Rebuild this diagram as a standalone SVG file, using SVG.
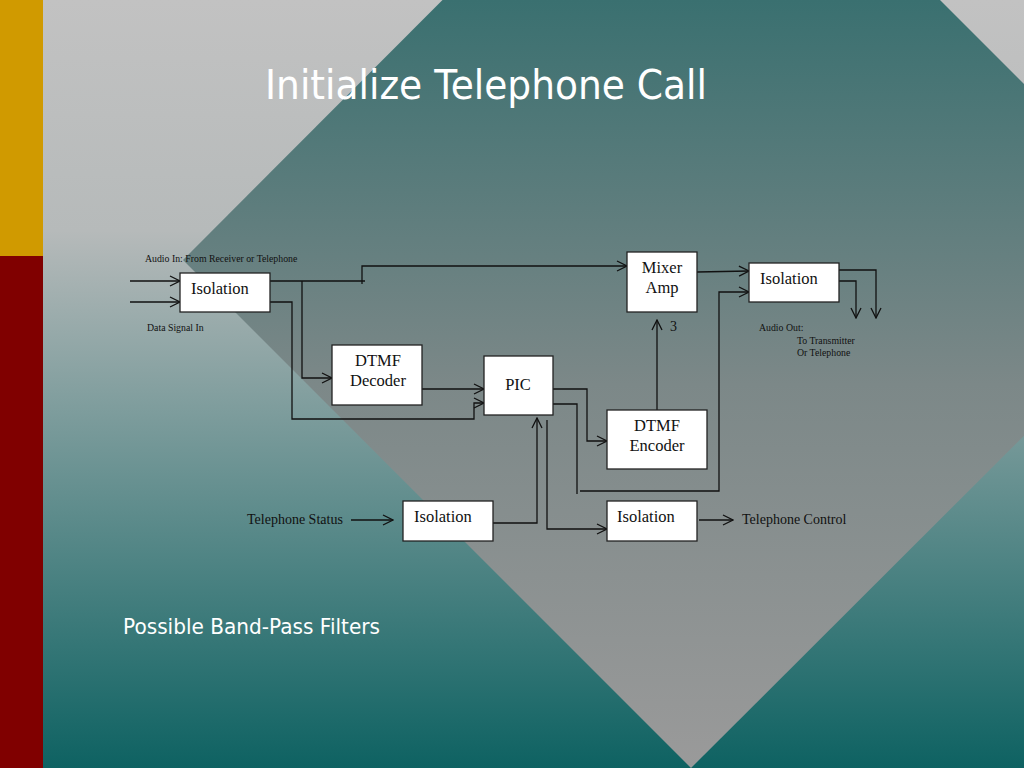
<svg xmlns="http://www.w3.org/2000/svg" width="1024" height="768" viewBox="0 0 1024 768">
<defs>
<linearGradient id="bg" x1="0" y1="0" x2="0" y2="768" gradientUnits="userSpaceOnUse">
<stop offset="0" stop-color="#c2c2c2"/>
<stop offset="0.3" stop-color="#b6baba"/>
<stop offset="1" stop-color="#0e6262"/>
</linearGradient>
<linearGradient id="dia" x1="0" y1="0" x2="0" y2="768" gradientUnits="userSpaceOnUse">
<stop offset="0" stop-color="#3a7070"/>
<stop offset="0.5" stop-color="#7c8888"/>
<stop offset="1" stop-color="#9a9a9a"/>
</linearGradient>
<marker id="arr" markerWidth="12" markerHeight="12" refX="11" refY="6" orient="auto" markerUnits="userSpaceOnUse">
<path d="M1,1 L11,6 L1,11" fill="none" stroke="#111" stroke-width="1.3"/>
</marker>
<style>
.box{fill:#fff;stroke:#222;stroke-width:1.3}
.t{font-family:"Liberation Serif","Times New Roman",serif;fill:#111}
.lbl{font-size:16.5px}
.sm{font-size:9.8px}
.md{font-size:14px}
.c{fill:none;stroke:#111;stroke-width:1.3}
.a{marker-end:url(#arr)}
</style>
</defs>
<rect x="0" y="0" width="1024" height="768" fill="url(#bg)"/>
<polygon points="691,-249 1200,260 691,768 183,260" fill="url(#dia)"/>
<rect x="0" y="0" width="43" height="256" fill="#d09a00"/>
<rect x="0" y="256" width="43" height="512" fill="#800000"/>
<text x="265" y="99" font-family="'DejaVu Sans','Open Sans',sans-serif" font-size="40" fill="#fff" textLength="442" lengthAdjust="spacingAndGlyphs">Initialize Telephone Call</text>
<text x="123" y="634" font-family="'DejaVu Sans','Open Sans',sans-serif" font-size="21" fill="#fff" textLength="257" lengthAdjust="spacingAndGlyphs">Possible Band-Pass Filters</text>

<g id="connectors">
<path class="c a" d="M130,281 H180"/>
<path class="c a" d="M130,302 H180"/>
<path class="c" d="M270,281 H365"/>
<path class="c a" d="M362,284 V266 H627"/>
<path class="c a" d="M302,281 V378 H332"/>
<path class="c a" d="M270,302 H292 V419 H474 V403 H484"/>
<path class="c a" d="M422,389 H484"/>
<path class="c a" d="M553,389 H587 V441 H607"/>
<path class="c" d="M553,404 H577 V494"/>
<path class="c a" d="M580,491 H719 V292 H749"/>
<path class="c a" d="M697,272 L749,271"/>
<path class="c a" d="M657,410 V320"/>
<path class="c a" d="M839,270 H876 V318"/>
<path class="c a" d="M839,281 H856 V318"/>
<path class="c a" d="M493,523 H537 V418"/>
<path class="c a" d="M547,420 V529 H607"/>
<path class="c a" d="M699,520 H733"/>
<path class="c a" d="M351,520 H393"/>
</g>

<g id="iso1">
<rect class="box" x="180" y="273" width="90" height="39"/>
<text class="t lbl" x="191" y="294">Isolation</text>
</g>
<g id="mixer">
<rect class="box" x="627" y="252" width="70" height="60"/>
<text class="t lbl" x="662" y="273" text-anchor="middle">Mixer</text>
<text class="t lbl" x="662" y="293" text-anchor="middle">Amp</text>
</g>
<g id="iso2">
<rect class="box" x="749" y="263" width="90" height="39"/>
<text class="t lbl" x="760" y="284">Isolation</text>
</g>
<g id="decoder">
<rect class="box" x="332" y="345" width="90" height="60"/>
<text class="t lbl" x="378" y="366" text-anchor="middle">DTMF</text>
<text class="t lbl" x="378" y="386" text-anchor="middle">Decoder</text>
</g>
<g id="pic">
<rect class="box" x="484" y="356" width="69" height="59"/>
<text class="t lbl" x="518" y="390" text-anchor="middle">PIC</text>
</g>
<g id="encoder">
<rect class="box" x="607" y="410" width="100" height="59"/>
<text class="t lbl" x="657" y="431" text-anchor="middle">DTMF</text>
<text class="t lbl" x="657" y="451" text-anchor="middle">Encoder</text>
</g>
<g id="iso3">
<rect class="box" x="403" y="501" width="90" height="40"/>
<text class="t lbl" x="414" y="522">Isolation</text>
</g>
<g id="iso4">
<rect class="box" x="607" y="501" width="90" height="40"/>
<text class="t lbl" x="617" y="522">Isolation</text>
</g>

<g id="labels">
<text class="t sm" x="145" y="262">Audio In: From Receiver or Telephone</text>
<text class="t sm" x="147" y="331">Data Signal In</text>
<text class="t md" x="670" y="331">3</text>
<text class="t sm" x="759" y="331">Audio Out:</text>
<text class="t sm" x="797" y="344">To Transmitter</text>
<text class="t sm" x="797" y="356">Or Telephone</text>
<text class="t md" x="247" y="524">Telephone Status</text>
<text class="t md" x="742" y="524">Telephone Control</text>
</g>
</svg>
